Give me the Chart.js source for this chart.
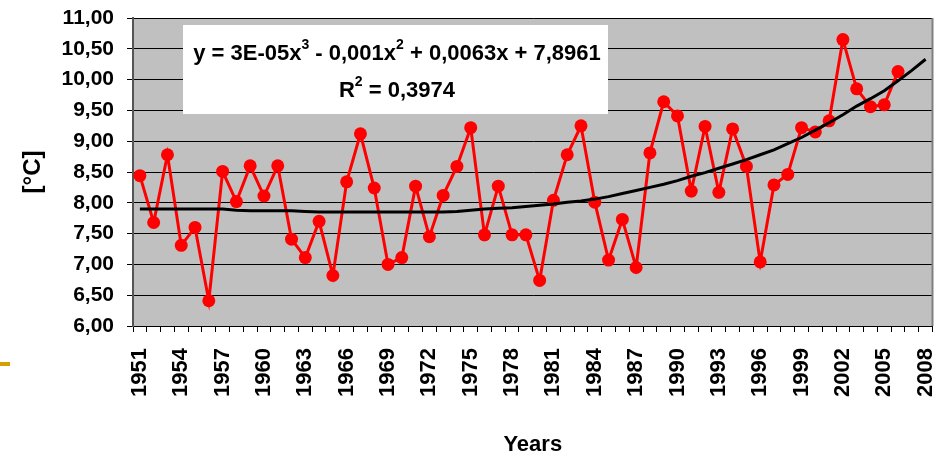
<!DOCTYPE html>
<html>
<head>
<meta charset="utf-8">
<script src="https://cdn.jsdelivr.net/npm/chart.js@4.4.1/dist/chart.umd.min.js"></script>
<style>
   html, body { margin: 0; padding: 0; background: #fff; }
   #wrap { width: 939px; height: 458px; position: relative; }
</style>
</head>
<body>
<div id="wrap"><canvas id="tempChart" width="939" height="458"></canvas></div>
<script>
const years = [];
for (let y = 1951; y <= 2008; y++) years.push(String(y));

// mean annual temperature, 1951-2006
const temps = [
   8.44, 7.68, 8.78, 7.31, 7.60, 6.41, 8.51, 8.02, 8.60, 8.11,
   8.60, 7.41, 7.11, 7.70, 6.82, 8.34, 9.12, 8.24, 7.00, 7.11,
   8.27, 7.45, 8.12, 8.59, 9.22, 7.48, 8.27, 7.48, 7.48, 6.74,
   8.04, 8.78, 9.25, 8.01, 7.07, 7.73, 6.95, 8.81, 9.64, 9.41,
   8.19, 9.24, 8.17, 9.20, 8.59, 7.04, 8.29, 8.46, 9.22, 9.15,
   9.33, 10.65, 9.85, 9.56, 9.59, 10.13
];

// polynomial trend line, 1951-2008
const trend = [
   7.90, 7.90, 7.90, 7.90, 7.90, 7.90, 7.90, 7.88, 7.87, 7.87,
   7.87, 7.87, 7.86, 7.85, 7.85, 7.85, 7.85, 7.85, 7.85, 7.85,
   7.85, 7.85, 7.85, 7.86, 7.88, 7.90, 7.91, 7.92, 7.94, 7.96,
   7.98, 8.01, 8.03, 8.06, 8.10, 8.15, 8.20, 8.25, 8.30, 8.36,
   8.43, 8.49, 8.56, 8.63, 8.70, 8.78, 8.86, 8.96, 9.06, 9.18,
   9.30, 9.43, 9.57, 9.69, 9.82, 9.98, 10.15, 10.33
];

const eqLine1 = [['y = 3E-05x', false], ['3', true], [' - 0,001x', false], ['2', true], [' + 0,0063x + 7,8961', false]];
const eqLine2 = [['R', false], ['2', true], [' = 0,3974', false]];

const FONT = '"Liberation Sans", Arial, sans-serif';

function drawRich(ctx, parts, cx, y) {
   let total = 0;
   for (const [t, sup] of parts) {
      ctx.font = (sup ? 'bold 14px ' : 'bold 22px ') + FONT;
      total += ctx.measureText(t).width;
   }
   let x = cx - total / 2;
   for (const [t, sup] of parts) {
      ctx.font = (sup ? 'bold 14px ' : 'bold 22px ') + FONT;
      ctx.fillText(t, x, sup ? y - 9 : y);
      x += ctx.measureText(t).width;
   }
}

const decor = {
   id: 'decor',
   beforeDraw(chart) {
      const { ctx, chartArea: a } = chart;
      ctx.save();
      ctx.fillStyle = '#c0c0c0';
      ctx.fillRect(a.left, a.top, a.right - a.left, a.bottom - a.top);
      ctx.restore();
   },
   afterDraw(chart) {
      const { ctx, chartArea: a } = chart;
      ctx.save();
      // right border of plot
      ctx.strokeStyle = '#808080';
      ctx.lineWidth = 2;
      ctx.beginPath();
      ctx.moveTo(a.right, a.top);
      ctx.lineTo(a.right, a.bottom);
      ctx.stroke();
      // equation box
      ctx.fillStyle = '#fff';
      ctx.fillRect(183, 25, 425, 89);
      ctx.fillStyle = '#000';
      ctx.textBaseline = 'middle';
      drawRich(ctx, eqLine1, 397, 54);
      drawRich(ctx, eqLine2, 397, 91);
      // slide mark
      ctx.fillStyle = '#d4a000';
      ctx.fillRect(0, 362, 10, 4);
      ctx.restore();
   }
};

const ctx = document.getElementById('tempChart').getContext('2d');
new Chart(ctx, {
   type: 'line',
   data: {
      labels: years,
      datasets: [{
         label: 'trend',
         data: trend,
         borderColor: '#000',
         borderWidth: 3,
         pointRadius: 0,
         tension: 0,
         fill: false
      }, {
         label: 'temperature',
         data: temps,
         borderColor: '#ff0000',
         backgroundColor: '#ff0000',
         borderWidth: 3,
         pointRadius: 6.5,
         pointBackgroundColor: '#ff0000',
         pointBorderWidth: 0,
         tension: 0,
         fill: false
      }]
   },
   options: {
      responsive: false,
      animation: false,
      devicePixelRatio: 1,
      layout: { padding: { left: 0, right: 2, top: 18, bottom: 0 } },
      plugins: { legend: { display: false }, tooltip: { enabled: false } },
      scales: {
         x: {
            offset: true,
            grid: { offset: true, drawOnChartArea: false, color: '#000', tickLength: 6 },
            border: { color: '#000', width: 1 },
            ticks: {
               autoSkip: false,
               minRotation: 90,
               maxRotation: 90,
               padding: 16,
               color: '#000',
               font: { family: FONT, size: 22, weight: 'bold' },
               callback: (v, i) => (i % 3 === 0 ? years[i] : '')
            },
            title: {
               display: true,
               text: 'Years',
               color: '#000',
               font: { family: FONT, size: 22, weight: 'bold' },
               padding: { top: 0, bottom: 0 }
            },
            afterFit: s => {
               s.height = 132;
               s.paddingLeft = 0;
               s.paddingRight = 0;
            }
         },
         y: {
            min: 6,
            max: 11,
            grid: { color: '#000', lineWidth: 1, tickLength: 6 },
            border: { color: '#555', width: 2 },
            ticks: {
               stepSize: 0.5,
               padding: 13,
               color: '#000',
               font: { family: FONT, size: 21, weight: 'bold' },
               callback: v => v.toFixed(2).replace('.', ',')
            },
            title: {
               display: true,
               text: '[°C]',
               color: '#000',
               font: { family: FONT, size: 24, weight: 'bold' },
               padding: { top: 19, bottom: 0 }
            },
            afterFit: s => {
               s.width = 133;
               s.paddingTop = 0;
               s.paddingBottom = 0;
            }
         }
      }
   },
   plugins: [decor]
});
</script>
</body>
</html>
